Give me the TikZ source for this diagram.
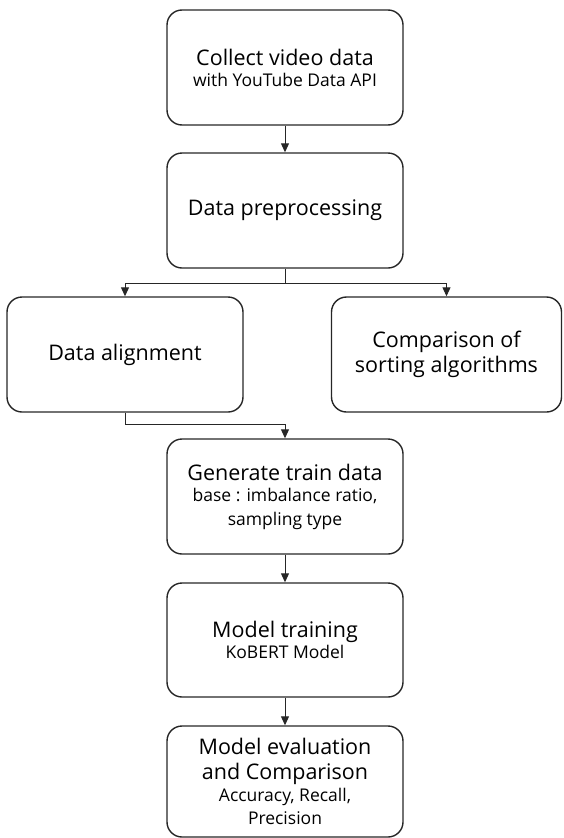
\documentclass[tikz,border=0pt]{standalone}
\usepackage{fontspec}
\setmainfont{Open Sans}
\usetikzlibrary{arrows.meta,positioning,calc}

\tikzset{
  stepbox/.style={draw=black!85, line width=1.4pt, rounded corners=15pt,
    minimum width=236pt, minimum height=115pt, align=center, inner sep=2pt,
    font=\fontsize{21.5}{25}\selectfont},
  flow/.style={draw=black!85, line width=1pt,
    -{Triangle[length=9pt,width=8pt]}},
}
\newcommand{\subtxt}[1]{{\fontsize{17.5}{20}\selectfont #1}}

\begin{document}
\begin{tikzpicture}[x=1pt,y=-1pt]
  \useasboundingbox (0,0) rectangle (563,838);

  \node[stepbox] (collect) at (285,67.5)
    {Collect video data\\[-4pt]\subtxt{with YouTube Data API}};
  \node[stepbox] (prep) at (285,210.5) {Data preprocessing};
  \node[stepbox] (align) at (125,354.5) {Data alignment};
  \node[stepbox, minimum width=230pt] (sort) at (446.5,354.5)
    {Comparison of\\sorting algorithms};
  \node[stepbox] (gen) at (285,496.5)
    {Generate train data\\[-4pt]\subtxt{base : imbalance ratio,}\\[-1pt]\subtxt{sampling type}};
  \node[stepbox, minimum height=114pt] (train) at (285,640)
    {Model training\\[-4pt]\subtxt{KoBERT Model}};
  \node[stepbox, minimum height=111pt] (eval) at (285,781.5)
    {Model evaluation\\and Comparison\\[-3pt]\subtxt{Accuracy, Recall,}\\[-2pt]\subtxt{Precision}};

  \draw[flow] (collect.south) -- (prep.north);
  \coordinate (split) at ($(prep.south)+(0,15)$);
  \draw[flow] (prep.south) -- (split) -| (align.north);
  \draw[flow] (split) -| (sort.north);
  \draw[flow] (align.south) -- ++(0,12) -| (gen.north);
  \draw[flow] (gen.south) -- (train.north);
  \draw[flow] (train.south) -- (eval.north);
\end{tikzpicture}
\end{document}
